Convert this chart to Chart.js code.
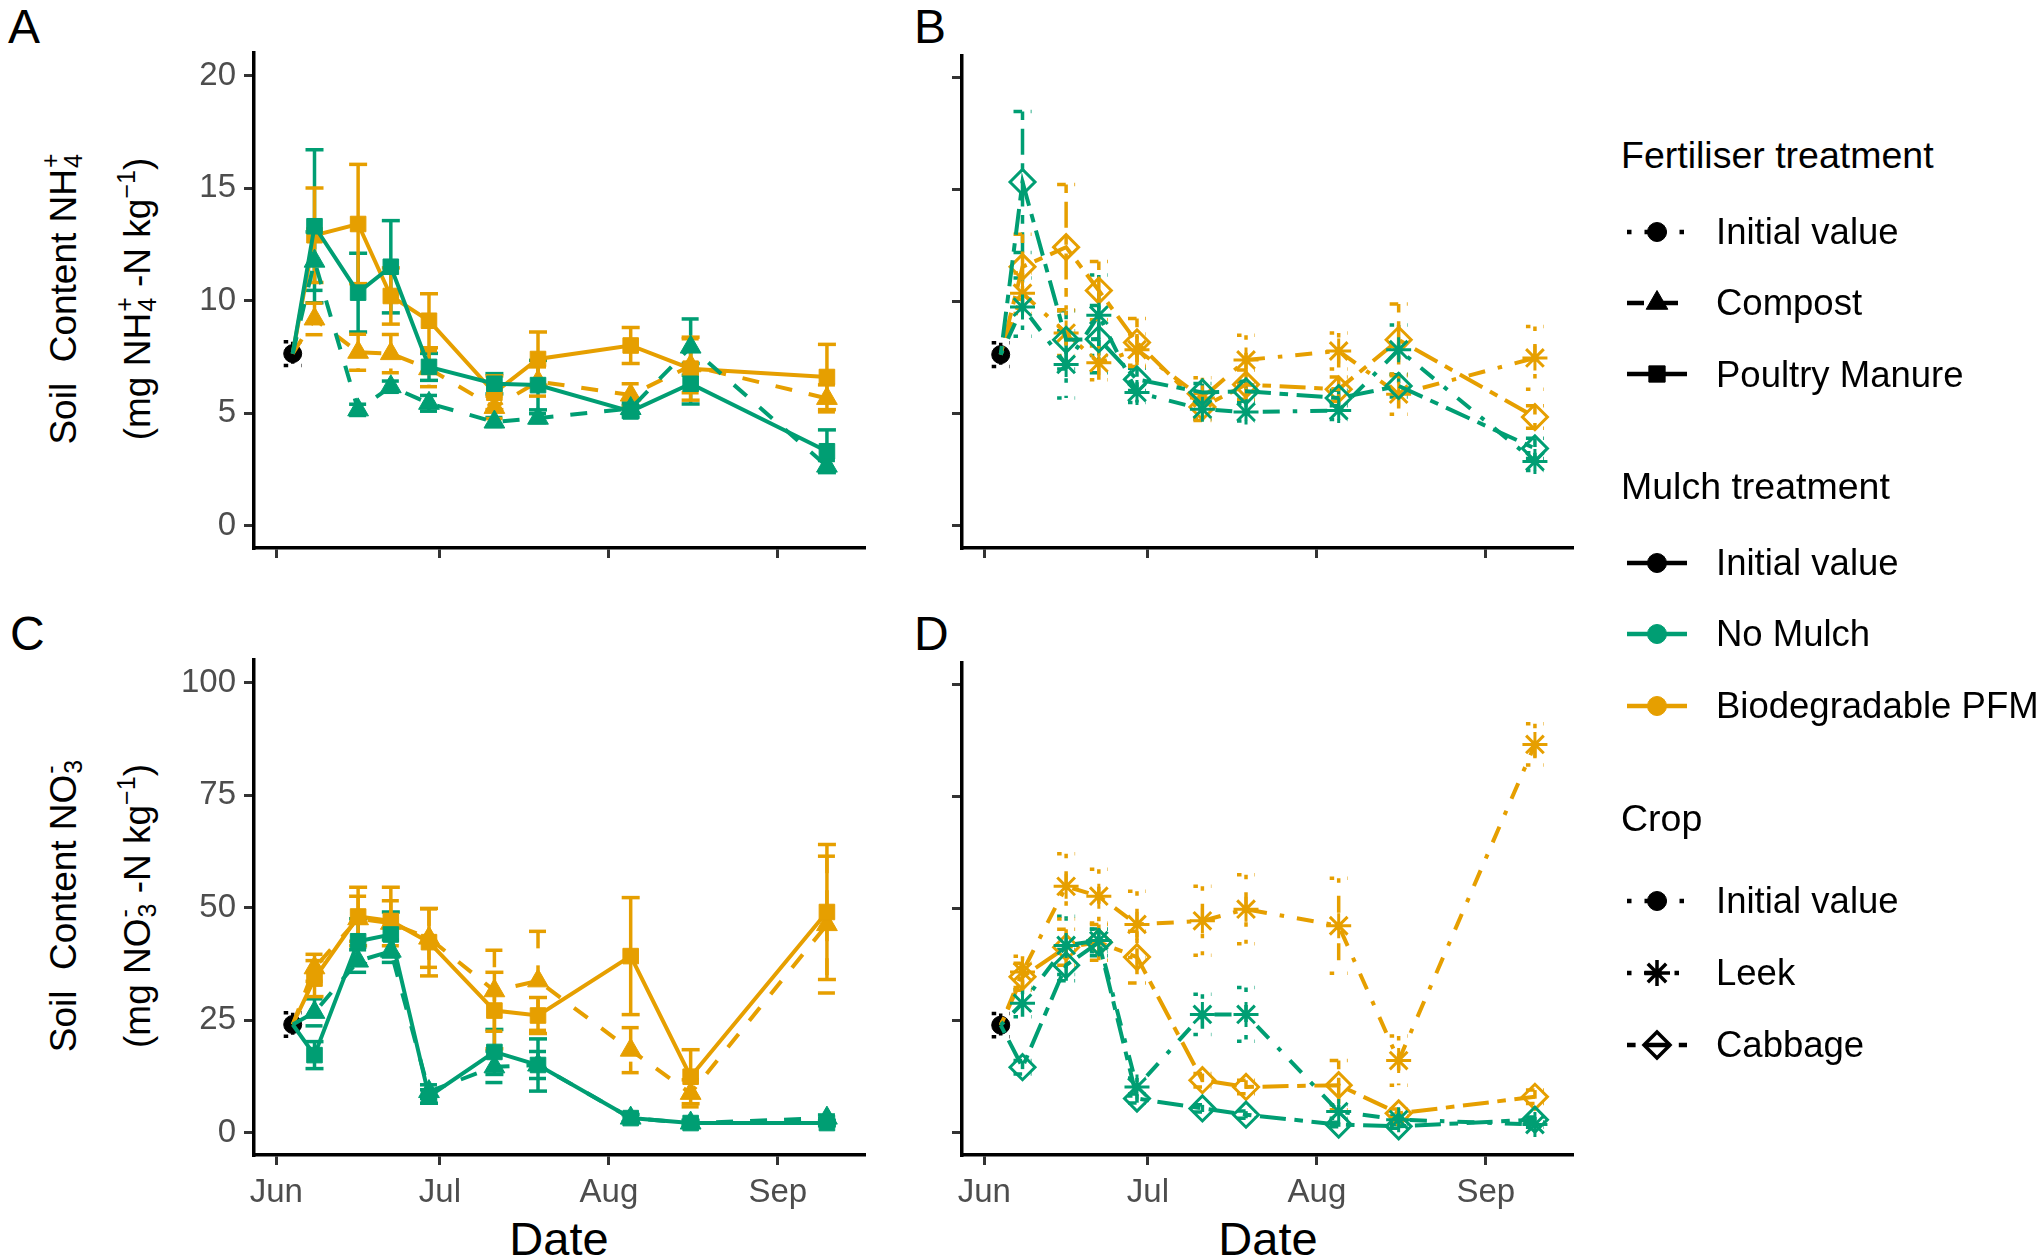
<!DOCTYPE html>
<html>
<head>
<meta charset="utf-8">
<script src="https://cdn.jsdelivr.net/npm/chart.js@4.4.1/dist/chart.umd.min.js"></script>
<style>
  body { margin: 0; background: #fff; width: 2041px; height: 1257px; position: relative; overflow: hidden;
         font-family: "Liberation Sans", Arial, sans-serif; color: #000; }
  canvas.panel { position: absolute; }
  .letter { position: absolute; font-size: 48px; line-height: 48px; }
  .ytitle { position: absolute; transform: translate(-50%, -50%) rotate(-90deg); white-space: nowrap;
            font-size: 37px; line-height: 44px; }
  .ss { display: inline-flex; flex-direction: column; font-size: 25px; line-height: 23px; vertical-align: 17px; margin-left: 1px; }
  .ytitle sup { font-size: 25px; vertical-align: 15px; line-height: 0; }
  .xtitle { position: absolute; transform: translate(-50%, -50%); font-size: 47px; line-height: 47px; }
  .leg { position: absolute; font-size: 36.5px; line-height: 36px; white-space: nowrap; }
  .legt { position: absolute; font-size: 37.5px; line-height: 36px; white-space: nowrap; }
  #keys { position: absolute; left: 1600px; top: 180px; }
</style>
</head>
<body>

<div class="letter" style="left:8px;top:3px">A</div>
<div class="letter" style="left:914px;top:3px">B</div>
<div class="letter" style="left:10px;top:610px">C</div>
<div class="letter" style="left:914px;top:610px">D</div>

<div class="ytitle" style="left:62px;top:299px">Soil&nbsp; Content NH<span class="ss"><span>+</span><span>4</span></span></div>
<div class="ytitle" style="left:136px;top:299px">(mg NH<span class="ss"><span>+</span><span>4</span></span> -N kg<sup>&minus;1</sup>)</div>
<div class="ytitle" style="left:62px;top:906px">Soil&nbsp; Content NO<span class="ss"><span>-</span><span>3</span></span></div>
<div class="ytitle" style="left:136px;top:906px">(mg NO<span class="ss"><span>-</span><span>3</span></span> -N kg<sup>&minus;1</sup>)</div>

<div class="xtitle" style="left:559px;top:1238px">Date</div>
<div class="xtitle" style="left:1268px;top:1238px">Date</div>

<canvas id="chartA" class="panel" width="730" height="580" style="left:150px;top:40px"></canvas>
<canvas id="chartB" class="panel" width="730" height="580" style="left:858px;top:40px"></canvas>
<canvas id="chartC" class="panel" width="730" height="580" style="left:150px;top:647px"></canvas>
<canvas id="chartD" class="panel" width="730" height="580" style="left:858px;top:647px"></canvas>

<canvas id="keys" width="120" height="900"></canvas>
<div class="legt" style="left:1621px;top:137px">Fertiliser treatment</div>
<div class="leg" style="left:1716px;top:214px">Initial value</div>
<div class="leg" style="left:1716px;top:285px">Compost</div>
<div class="leg" style="left:1716px;top:357px">Poultry Manure</div>
<div class="legt" style="left:1621px;top:468px">Mulch treatment</div>
<div class="leg" style="left:1716px;top:545px">Initial value</div>
<div class="leg" style="left:1716px;top:616px">No Mulch</div>
<div class="leg" style="left:1716px;top:688px">Biodegradable PFM</div>
<div class="legt" style="left:1621px;top:800px">Crop</div>
<div class="leg" style="left:1716px;top:883px">Initial value</div>
<div class="leg" style="left:1716px;top:955px">Leek</div>
<div class="leg" style="left:1716px;top:1027px">Cabbage</div>

<script>
// sampling dates (month-day), first one is the initial sampling
const year = 2021;
const initialDate = '06-04';
const sampleDates = ['06-08', '06-16', '06-22', '06-29', '07-11', '07-19', '08-05', '08-16', '09-10'];
const monthStarts = ['06-01', '07-01', '08-01', '09-01'];
const monthLabels = ['Jun', 'Jul', 'Aug', 'Sep'];
const nh4Ticks = [0, 5, 10, 15, 20];
const no3Ticks = [0, 25, 50, 75, 100];

// initial values (mean, se)
const initialNH4 = 7.64, initialNH4Se = 0.53;
const initialNO3 = 24.0, initialNO3Se = 2.6;

// A: NH4 by fertiliser x mulch
const compostNoMulchNH4   = [11.75, 5.14, 6.17, 5.43, 4.6, 4.77, 5.2, 7.93, 2.64];
const compostNoMulchNH4Se = [1.3, 0.25, 0.25, 0.35, 0.2, 0.2, 0.25, 1.25, 0.25];
const poultryNoMulchNH4   = [13.3, 10.35, 11.5, 7.05, 6.3, 6.24, 5.07, 6.3, 3.3];
const poultryNoMulchNH4Se = [3.4, 1.75, 2.05, 0.6, 0.45, 1.1, 0.25, 0.9, 0.95];
const compostPfmNH4       = [9.18, 7.7, 7.64, 6.97, 5.25, 6.4, 5.8, 7.1, 5.65];
const compostPfmNH4Se     = [0.7, 0.8, 0.85, 0.8, 0.5, 0.65, 0.5, 1.2, 0.6];
const poultryPfmNH4       = [12.9, 13.4, 10.2, 9.1, 5.9, 7.4, 8.0, 6.97, 6.6];
const poultryPfmNH4Se     = [2.1, 2.65, 1.25, 1.2, 0.75, 1.2, 0.8, 1.4, 1.45];

// B: NH4 by crop x mulch
const leekNoMulchNH4      = [9.76, 7.2, 9.4, 5.95, 5.2, 5.07, 5.14, 7.86, 2.86];
const leekNoMulchNH4Se    = [1.3, 1.5, 1.8, 0.45, 0.45, 0.4, 0.4, 1.1, 0.4];
const cabbageNoMulchNH4   = [15.35, 8.3, 8.33, 6.53, 5.95, 6.0, 5.7, 6.24, 3.45];
const cabbageNoMulchNH4Se = [3.15, 1.3, 1.5, 0.5, 0.4, 0.45, 0.35, 0.5, 0.45];
const leekPfmNH4          = [10.38, 8.6, 7.27, 7.86, 5.7, 7.4, 7.8, 5.87, 7.49];
const leekPfmNH4Se        = [0.9, 1.0, 0.75, 0.7, 0.9, 1.1, 0.8, 0.9, 1.4];
const cabbagePfmNH4       = [11.56, 12.44, 10.5, 8.18, 5.3, 6.3, 6.09, 8.3, 4.85];
const cabbagePfmNH4Se     = [1.45, 2.8, 1.3, 1.07, 0.6, 0.65, 0.55, 1.6, 0.5];

// C: NO3 by fertiliser x mulch
const compostNoMulchNO3   = [26.7, 38.1, 40.3, 9.1, 14.6, 15.0, 3.2, 2.1, 3.2];
const compostNoMulchNO3Se = [3.0, 2.5, 2.5, 1.5, 3.5, 3.0, 0.8, 0.6, 0.7];
const poultryNoMulchNO3   = [17.2, 42.5, 44.0, 8.0, 17.9, 15.0, 3.2, 2.1, 2.1];
const poultryNoMulchNO3Se = [3.0, 5.0, 5.0, 1.5, 5.0, 5.8, 0.8, 0.6, 0.6];
const compostPfmNO3       = [36.6, 47.5, 46.5, 43.2, 31.5, 33.7, 18.3, 8.7, 46.2];
const compostPfmNO3Se     = [3.0, 5.0, 5.0, 6.5, 9.0, 11.0, 5.0, 3.0, 15.2];
const poultryPfmNO3       = [34.2, 48.0, 47.0, 42.3, 27.1, 26.0, 39.2, 12.4, 49.0];
const poultryPfmNO3Se     = [4.0, 6.5, 7.5, 7.5, 8.5, 4.0, 13.0, 6.0, 15.0];

// D: NO3 by crop x mulch
const leekNoMulchNO3      = [28.9, 41.8, 42.9, 10.2, 26.4, 26.4, 4.7, 2.9, 1.8];
const leekNoMulchNO3Se    = [3.0, 6.5, 2.5, 2.0, 4.5, 6.0, 1.5, 0.8, 0.6];
const cabbageNoMulchNO3   = [14.6, 37.4, 42.5, 7.6, 5.4, 4.0, 1.8, 1.4, 2.9];
const cabbageNoMulchNO3Se = [1.5, 3.5, 3.0, 1.0, 0.8, 0.8, 0.5, 0.4, 0.6];
const leekPfmNO3          = [35.9, 55.0, 52.8, 46.5, 47.3, 49.9, 46.2, 16.1, 86.7];
const leekPfmNO3Se        = [3.5, 7.3, 6.0, 7.4, 7.7, 7.7, 10.6, 5.5, 4.6];
const cabbagePfmNO3       = [34.8, 41.4, 42.5, 39.2, 11.7, 10.2, 10.6, 4.3, 8.0];
const cabbagePfmNO3Se     = [3.0, 4.0, 4.0, 5.8, 1.5, 1.5, 5.5, 1.0, 1.5];

// styles
const GREEN = '#009E73', ORANGE = '#E69F00', BLACK = '#000000';
const LW = 4;
const DASH = {
    solid: [], dotted: [4.5, 13], dashed: [17, 17],
    dotdash: [4.5, 13, 17, 13], twodash: [8.6, 8.6, 26, 8.6]
};
const SHAPE = {
    initial: { pointStyle: 'circle', r: 9, fill: true },
    compost: { pointStyle: 'triangle', r: 12, fill: true },
    poultry: { pointStyle: 'rect', r: 11, fill: true },
    leek: { pointStyle: 'star', r: 12.5, fill: false },
    cabbage: { pointStyle: 'rectRot', r: 12.5, fill: false }
};

Chart.defaults.font.family = '"Liberation Sans", Arial, sans-serif';

function day(md) {
    const [m, d] = md.split('-').map(Number);
    return (Date.UTC(year, m - 1, d) - Date.UTC(year, 5, 1)) / 864e5;
}

function lineSeries(init, values, se, color, dash, shape) {
    const pts = [{ x: day(initialDate), y: init }]
        .concat(values.map((v, i) => ({ x: day(sampleDates[i]), y: v })));
    return {
        data: pts,
        err: [null].concat(se),
        borderColor: color,
        borderWidth: LW,
        borderDash: dash,
        pointStyle: shape.pointStyle,
        pointRadius: pts.map((p, i) => i === 0 ? 0 : shape.r),
        pointBackgroundColor: shape.fill ? color : 'rgba(0,0,0,0)',
        pointBorderColor: color,
        pointBorderWidth: shape.fill ? 1 : 3,
        tension: 0,
        fill: false
    };
}

function initialSeries(init, se) {
    return {
        data: [{ x: day(initialDate), y: init }],
        err: [se],
        showLine: false,
        borderColor: BLACK,
        borderDash: DASH.dotted,
        pointStyle: 'circle',
        pointRadius: SHAPE.initial.r,
        pointBackgroundColor: BLACK,
        pointBorderColor: BLACK,
        pointBorderWidth: 1
    };
}

// error bars drawn through the chart's scales
const errorBars = {
    id: 'errorBars',
    beforeDatasetsDraw(chart) {
        const { ctx, scales: { x, y } } = chart;
        const cap = 9;
        chart.data.datasets.forEach(ds => {
            if (!ds.err) return;
            ctx.save();
            ctx.strokeStyle = ds.borderColor;
            ctx.lineWidth = 3.5;
            ds.data.forEach((p, j) => {
                const e = ds.err[j];
                if (e == null) return;
                const px = x.getPixelForValue(p.x);
                const top = y.getPixelForValue(p.y + e);
                const bot = y.getPixelForValue(p.y - e);
                const segs = [[px, top, px, bot], [px - cap, top, px + cap, top], [px - cap, bot, px + cap, bot]];
                segs.forEach(s => {
                    ctx.setLineDash(ds.borderDash || []);
                    ctx.beginPath();
                    ctx.moveTo(s[0], s[1]);
                    ctx.lineTo(s[2], s[3]);
                    ctx.stroke();
                });
            });
            ctx.restore();
        });
    }
};

const tickFont = { size: 33 };
const tickColor = '#4D4D4D';

function noPad(s) {
    s.paddingTop = 0; s.paddingBottom = 0; s.paddingLeft = 0; s.paddingRight = 0;
}

function makeChart(id, datasets, yMin, yMax, yTicks, showY, showX) {
    return new Chart(document.getElementById(id), {
        type: 'line',
        data: { datasets: datasets },
        options: {
            responsive: false,
            animation: false,
            devicePixelRatio: 1,
            events: [],
            layout: { padding: { top: 9, right: 16, left: 0, bottom: 0 } },
            plugins: { legend: { display: false }, tooltip: { enabled: false } },
            scales: {
                x: {
                    type: 'linear',
                    min: -4.1,
                    max: 107.8,
                    afterBuildTicks: s => { s.ticks = monthStarts.map(m => ({ value: day(m) })); },
                    afterFit: s => { s.height = 72; noPad(s); },
                    ticks: {
                        display: showX,
                        autoSkip: false,
                        maxRotation: 0,
                        padding: 8,
                        font: tickFont,
                        color: tickColor,
                        callback: (v, i) => monthLabels[i]
                    },
                    grid: { display: true, drawOnChartArea: false, drawTicks: true, tickLength: 10, lineWidth: 3, color: '#333333' },
                    border: { display: true, color: BLACK, width: 3.5 }
                },
                y: {
                    type: 'linear',
                    min: yMin,
                    max: yMax,
                    afterBuildTicks: s => { s.ticks = yTicks.map(v => ({ value: v })); },
                    afterFit: s => { s.width = 104; noPad(s); },
                    ticks: { display: showY, padding: 8, font: tickFont, color: tickColor },
                    grid: { display: true, drawOnChartArea: false, drawTicks: true, tickLength: 10, lineWidth: 3, color: '#333333' },
                    border: { display: true, color: BLACK, width: 3.5 }
                }
            }
        },
        plugins: [errorBars]
    });
}

makeChart('chartA', [
    lineSeries(initialNH4, poultryNoMulchNH4, poultryNoMulchNH4Se, GREEN, DASH.solid, SHAPE.poultry),
    lineSeries(initialNH4, compostNoMulchNH4, compostNoMulchNH4Se, GREEN, DASH.dashed, SHAPE.compost),
    lineSeries(initialNH4, poultryPfmNH4, poultryPfmNH4Se, ORANGE, DASH.solid, SHAPE.poultry),
    lineSeries(initialNH4, compostPfmNH4, compostPfmNH4Se, ORANGE, DASH.dashed, SHAPE.compost),
    initialSeries(initialNH4, initialNH4Se)
], -1, 21, nh4Ticks, true, false);

makeChart('chartB', [
    lineSeries(initialNH4, leekNoMulchNH4, leekNoMulchNH4Se, GREEN, DASH.dotdash, SHAPE.leek),
    lineSeries(initialNH4, cabbageNoMulchNH4, cabbageNoMulchNH4Se, GREEN, DASH.twodash, SHAPE.cabbage),
    lineSeries(initialNH4, leekPfmNH4, leekPfmNH4Se, ORANGE, DASH.dotdash, SHAPE.leek),
    lineSeries(initialNH4, cabbagePfmNH4, cabbagePfmNH4Se, ORANGE, DASH.twodash, SHAPE.cabbage),
    initialSeries(initialNH4, initialNH4Se)
], -1, 21, nh4Ticks, false, false);

makeChart('chartC', [
    lineSeries(initialNO3, poultryNoMulchNO3, poultryNoMulchNO3Se, GREEN, DASH.solid, SHAPE.poultry),
    lineSeries(initialNO3, compostNoMulchNO3, compostNoMulchNO3Se, GREEN, DASH.dashed, SHAPE.compost),
    lineSeries(initialNO3, poultryPfmNO3, poultryPfmNO3Se, ORANGE, DASH.solid, SHAPE.poultry),
    lineSeries(initialNO3, compostPfmNO3, compostPfmNO3Se, ORANGE, DASH.dashed, SHAPE.compost),
    initialSeries(initialNO3, initialNO3Se)
], -5, 105, no3Ticks, true, true);

makeChart('chartD', [
    lineSeries(initialNO3, leekNoMulchNO3, leekNoMulchNO3Se, GREEN, DASH.dotdash, SHAPE.leek),
    lineSeries(initialNO3, cabbageNoMulchNO3, cabbageNoMulchNO3Se, GREEN, DASH.twodash, SHAPE.cabbage),
    lineSeries(initialNO3, leekPfmNO3, leekPfmNO3Se, ORANGE, DASH.dotdash, SHAPE.leek),
    lineSeries(initialNO3, cabbagePfmNO3, cabbagePfmNO3Se, ORANGE, DASH.twodash, SHAPE.cabbage),
    initialSeries(initialNO3, initialNO3Se)
], -5, 105, no3Ticks, false, true);

// legend keys
const keyItems = [
    { y: 232, color: BLACK, dash: DASH.dotted, shape: SHAPE.initial },
    { y: 303, color: BLACK, dash: DASH.dashed, shape: SHAPE.compost },
    { y: 374, color: BLACK, dash: DASH.solid, shape: SHAPE.poultry },
    { y: 563, color: BLACK, dash: DASH.solid, shape: SHAPE.initial },
    { y: 634, color: GREEN, dash: DASH.solid, shape: SHAPE.initial },
    { y: 706, color: ORANGE, dash: DASH.solid, shape: SHAPE.initial },
    { y: 901, color: BLACK, dash: DASH.dotted, shape: SHAPE.initial },
    { y: 973, color: BLACK, dash: DASH.dotdash, shape: SHAPE.leek },
    { y: 1045, color: BLACK, dash: DASH.twodash, shape: SHAPE.cabbage }
];
const kctx = document.getElementById('keys').getContext('2d');
keyItems.forEach(k => {
    const cx = 57, cy = k.y - 180;
    kctx.save();
    kctx.strokeStyle = k.color;
    kctx.lineWidth = 4.5;
    kctx.setLineDash(k.dash);
    kctx.beginPath();
    kctx.moveTo(cx - 30, cy);
    kctx.lineTo(cx + 30, cy);
    kctx.stroke();
    kctx.restore();
    kctx.save();
    kctx.fillStyle = k.shape.fill ? k.color : 'rgba(0,0,0,0)';
    kctx.strokeStyle = k.color;
    kctx.lineWidth = k.shape.fill ? 1 : 3.5;
    Chart.helpers.drawPoint(kctx, { pointStyle: k.shape.pointStyle, radius: k.shape.r + 0.5, rotation: 0, borderWidth: kctx.lineWidth }, cx, cy);
    kctx.restore();
});
</script>
</body>
</html>
